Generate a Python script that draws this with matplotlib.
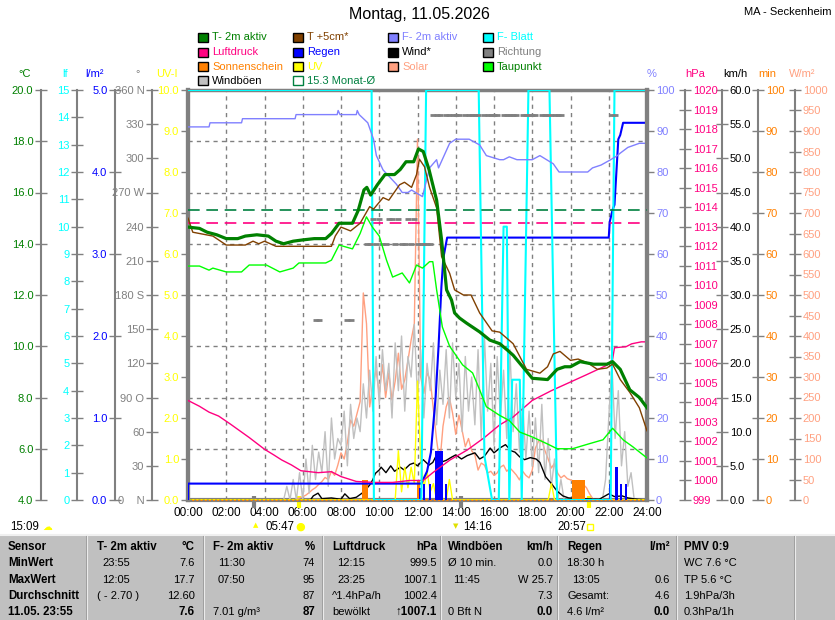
import numpy as np
import matplotlib
matplotlib.use("Agg")
import matplotlib.pyplot as plt
from matplotlib.patches import Rectangle

plt.rcParams['font.family'] = ['Liberation Sans', 'DejaVu Sans']

nan = np.nan

# ---------------- data (hour, value) ----------------
temp_2m = [(0.0, 14.65), (0.6, 14.6), (1.0, 14.45), (1.5, 14.35), (2.0, 14.2), (2.6, 14.2),
           (3.0, 14.3), (3.6, 14.35), (4.2, 14.3), (4.6, 14.1), (5.0, 14.0), (5.5, 14.1),
           (6.0, 14.15), (6.6, 14.2), (7.2, 14.2), (7.5, 14.4), (7.9, 14.8), (8.6, 14.8),
           (8.9, 15.3), (9.2, 16.1), (9.35, 16.2), (9.55, 15.9), (9.9, 16.3), (10.3, 16.7),
           (10.8, 16.7), (11.1, 16.9), (11.4, 17.2), (11.8, 17.2), (12.05, 17.7), (12.3, 17.6),
           (12.6, 16.9), (12.8, 16.3), (13.0, 15.7), (13.26, 14.15), (13.52, 12.2), (13.78, 11.8),
           (13.94, 11.3), (14.2, 11.1), (14.57, 10.9), (15.25, 10.56), (15.78, 10.24), (16.3, 10.1),
           (16.7, 9.85), (17.0, 9.65), (17.5, 9.2), (18.0, 8.75), (18.8, 8.7), (19.3, 9.1),
           (19.7, 9.2), (20.0, 9.2), (20.5, 9.4), (21.2, 9.3), (21.9, 9.3), (22.2, 9.4),
           (22.6, 9.1), (23.1, 8.3), (23.6, 8.0), (24.0, 7.6)]

temp_5cm = [(0.0, 15.0), (0.25, 14.45), (0.6, 14.4), (1.3, 14.3), (2.0, 13.95), (3.0, 13.95),
            (3.4, 14.1), (3.7, 14.0), (4.0, 14.1), (4.6, 13.9), (5.7, 13.9), (7.5, 13.9),
            (7.7, 14.3), (8.0, 14.65), (8.5, 14.5), (9.0, 14.8), (9.5, 15.45), (9.7, 15.35),
            (10.2, 15.8), (10.5, 15.7), (11.06, 16.3), (11.32, 16.4), (11.69, 16.2), (11.95, 16.7),
            (12.1, 17.3), (12.37, 17.0), (12.63, 16.2), (13.0, 15.4), (13.26, 13.5), (13.68, 12.85),
            (13.94, 12.2), (14.4, 12.0), (14.8, 12.0), (15.25, 11.3), (15.9, 10.6), (16.3, 10.55),
            (17.0, 10.1), (17.7, 9.1), (18.4, 8.95), (18.8, 9.2), (19.1, 9.7), (19.45, 9.8),
            (20.0, 9.45), (20.4, 9.5), (20.9, 9.35), (21.4, 9.1), (21.9, 9.15), (22.2, 9.3),
            (22.6, 8.7), (23.1, 8.2), (23.6, 7.6), (24.0, 6.7)]

dewpoint = [(0.0, 13.13), (0.6, 13.13), (1.1, 12.97), (1.3, 13.05), (2.0, 12.9), (2.8, 12.9),
            (3.2, 13.17), (4.1, 13.17), (4.8, 12.9), (5.5, 13.05), (5.8, 13.25), (7.2, 13.25),
            (7.5, 13.36), (7.9, 13.95), (8.6, 13.8), (9.0, 14.4), (9.33, 15.05), (9.64, 14.65),
            (10.0, 14.3), (10.38, 13.36), (10.7, 12.7), (11.2, 12.86), (11.58, 12.47), (11.95, 13.17),
            (12.26, 13.05), (12.63, 13.3), (12.8, 13.3), (13.0, 12.2), (13.3, 10.75), (13.68, 10.0),
            (14.36, 9.27), (14.88, 8.96), (15.25, 8.3), (15.6, 7.64), (16.3, 7.3), (16.8, 7.1),
            (17.35, 6.65), (18.0, 6.46), (18.76, 6.2), (19.3, 6.0), (20.1, 6.0), (21.0, 6.2),
            (21.7, 6.35), (22.2, 6.8), (22.75, 6.35), (23.27, 6.07), (24.0, 5.64)]

humidity = [(0.0, 91), (1.1, 91), (1.15, 92), (2.8, 92), (2.85, 93), (5.6, 93), (5.65, 94),
            (7.8, 94), (7.85, 95), (7.95, 94), (8.8, 94), (8.85, 95), (8.95, 94), (9.4, 92),
            (9.7, 88), (9.85, 84), (10.2, 80.5), (10.9, 77), (11.2, 75), (11.5, 75), (11.69, 75.6),
            (11.9, 75), (12.26, 74), (12.63, 81), (13.0, 83), (13.1, 81), (13.68, 87), (14.0, 88),
            (14.7, 88), (15.25, 86.6), (15.6, 84), (16.3, 83), (16.5, 83), (16.8, 83.7), (17.2, 83),
            (18.0, 83), (18.4, 84), (18.75, 83), (19.1, 82), (19.4, 80), (20.9, 80), (21.15, 81),
            (21.6, 81.7), (22.1, 83), (22.45, 84), (22.6, 84.6), (23.0, 86), (23.6, 87), (24.0, 87)]

leaf_wet = [(0.0, 15), (9.6, 15), (9.72, 0), (12.2, 0), (12.45, 15), (15.2, 15), (15.5, 1.6),
            (15.9, 0), (16.25, 0), (16.5, 10), (16.67, 10), (16.8, 0), (16.95, 4.4), (17.35, 4.4),
            (17.45, 0), (17.8, 15), (18.9, 15), (19.3, 0), (22.1, 0), (22.3, 15), (24.0, 15)]

pressure = [(0.0, 1004.1), (0.6, 1003.8), (1.1, 1003.5), (1.6, 1003.3), (2.2, 1002.9), (3.2, 1002.2),
            (4.0, 1001.6), (4.5, 1001.3), (4.9, 1001.05), (5.4, 1000.8), (5.9, 1000.5), (6.8, 1000.4),
            (7.5, 1000.45), (8.0, 1000.2), (8.8, 999.95), (9.7, 999.9), (10.7, 999.9), (11.6, 1000.0),
            (12.3, 1000.0), (12.8, 1000.4), (13.7, 1001.05), (14.6, 1001.56), (15.5, 1002.2),
            (16.3, 1002.85), (17.0, 1003.25), (18.0, 1004.1), (19.0, 1004.6), (19.9, 1005.0),
            (20.8, 1005.4), (21.9, 1005.9), (22.2, 1006.2), (22.3, 1006.8), (22.9, 1006.85),
            (23.2, 1007.0), (23.7, 1007.1), (24.0, 1007.1)]

wind = [(0.0, 0), (6.4, 0), (6.55, 0.6), (6.8, 1.0), (7.0, 0.2), (7.5, 0.3), (8.0, 0.1), (8.2, 0.9),
        (8.45, 0.2), (8.8, 0.4), (9.2, 1.2), (9.5, 2.2), (9.65, 2.9), (9.8, 3.9), (10.0, 4.4),
        (10.1, 4.8), (10.35, 4.0), (10.6, 5.0), (10.8, 4.2), (11.1, 4.8), (11.3, 4.4), (11.6, 5.2),
        (11.8, 5.4), (12.0, 5.0), (12.3, 5.9), (12.6, 5.1), (12.8, 5.5), (13.0, 6.6), (13.3, 5.6),
        (13.5, 5.8), (13.8, 6.3), (14.0, 6.6), (14.3, 6.0), (14.6, 6.5), (15.0, 6.9), (15.25, 6.0),
        (15.5, 6.4), (15.8, 7.6), (16.0, 6.9), (16.3, 7.6), (16.6, 8.1), (16.9, 7.2), (17.1, 7.0),
        (17.35, 6.3), (17.6, 5.9), (17.9, 6.2), (18.2, 6.0), (18.4, 5.5), (18.7, 3.4), (19.0, 2.4),
        (19.3, 1.3), (19.6, 0.6), (19.9, 0.3), (20.5, 0.2), (21.5, 0.1), (22.0, 0.9), (22.3, 0.5),
        (22.7, 0.6), (23.0, 0.3), (23.5, 0.1), (24.0, 0.0)]

rain_total = [(0.0, 0.0), (0.0, 0.2), (12.2, 0.2), (12.5, 0.35), (12.7, 0.58), (12.95, 1.26),
              (13.1, 1.87), (13.25, 2.6), (13.35, 2.95), (13.55, 3.2), (22.0, 3.2), (22.05, 3.39),
              (22.2, 3.54), (22.3, 3.6), (22.4, 4.0), (22.5, 4.4), (22.6, 4.45), (22.75, 4.6),
              (24.0, 4.6)]

rain_bar_t = [12.15, 12.35, 12.65, 12.95, 13.1, 13.25, 13.5, 22.05, 22.4, 22.65, 22.9]
rain_bar_mm = [0.15, 0.2, 0.2, 0.6, 0.6, 0.6, 0.2, 0.2, 0.4, 0.2, 0.2]

sun_t = [9.1, 9.25, 11.95, 20.1, 20.27, 20.43, 20.6]
sun_min = [5, 5, 5, 5, 5, 5, 5]

# 10-minute samples, one row per hour, plus the 24:00 value
gust = [0, 0, 0, 0, 0, 0,  0, 0, 0, 0, 0, 0,  0, 0, 0, 0, 0, 0,  0, 0, 0, 0, 0, 0,
        0, 0, 0, 0, 0, 0,
        0, 2, 0, 3, 0, 4,
        0, 6, 1, 8, 3, 7,
        4, 10, 2, 12, 6, 9,
        8, 13, 5, 14, 9, 12,
        10, 17, 12, 19, 13, 21,
        14, 22, 16, 20, 12, 23,
        16, 24, 13, 21, 18, 25.7,
        15, 22, 12, 20, 16, 23,
        11, 19, 14, 22, 12, 23,
        15, 20, 10, 21, 13, 18,
        11, 22, 9, 24, 13, 20,
        8, 21, 12, 19, 9, 22,
        10, 17, 7, 14, 6, 13,
        5, 12, 4, 14, 3, 9,
        2, 6, 0, 3, 0, 0,
        0, 0, 0, 0, 0, 0,
        0, 0, 0, 0, 0, 3,
        12, 20, 9, 16, 5, 10,
        2, 4, 0, 0, 0, 0,
        0]

solar = [0, 0, 0, 0, 0, 0,  0, 0, 0, 0, 0, 0,  0, 0, 0, 0, 0, 0,  0, 0, 0, 0, 0, 0,
         0, 0, 0, 0, 0, 0,
         0, 0, 0, 0, 2, 5,
         8, 12, 18, 25, 30, 38,
         45, 55, 50, 70, 60, 85,
         115, 100, 140, 195, 180, 210,
         240, 505, 430, 227, 280, 317,
         260, 330, 250, 310, 244, 290,
         358, 270, 293, 340, 390, 430,
         880, 300, 260, 310, 293, 220,
         146, 90, 180, 227, 250, 212,
         160, 207, 170, 130, 150, 120,
         110, 73, 90, 85, 66, 70,
         60, 66, 80, 85, 70, 78,
         70, 61, 49, 70, 60, 54,
         73, 127, 144, 146, 120, 100,
         78, 90, 65, 54, 60, 52,
         49, 45, 43, 41, 38, 30,
         15, 3, 0, 0, 0, 0,
         0, 0, 0, 0, 0, 0,
         0, 0, 0, 0, 0, 0,
         0]

uv = [0] * 66 + [1.2, 0.2, 0.8, 0.3, 0.8, 0.4,
                 2.9, 1.0, 0.3, 0.7, 0.2, 0.4,
                 0, 0.3, 0, 0, 0.5, 0] + [0] * 30 + [0.4] + [0] * 36

direction = [nan] * 40 + [158, 158] + [nan] * 8 + [158, 158] + [nan] * 4 + \
    [225, 225, 247, 225,
     247, 225, 225, 247, 247, 225,
     247, 225, 225, 247, 225, 247,
     225, 225, 225, 225, 225, 338] + \
    [338, 338, nan, 338, 338, 338] * 6 + [338, 338, 338, 338, nan, nan] + \
    [nan] * 12 + [nan, 338, 338, nan, nan, nan] + [nan] * 7

T_MONTH = 15.3
P_MONTH = 1013.2
sunrise_set = [5.78, 20.95]
moon_marks = [3.47, 14.27]

hour_ticks = list(range(0, 25, 2))

# ---------------- figure ----------------
W, H = 835, 620
PL, PR, PT, PB = 188, 647, 90, 500
GRAY = '#808080'

fig = plt.figure(figsize=(W / 100, H / 100), dpi=100)

page = fig.add_axes([0, 0, 1, 1])
page.set_xlim(0, W)
page.set_ylim(H, 0)
page.axis('off')

plot_rect = [PL / W, 1 - PB / H, (PR - PL) / W, (PB - PT) / H]

base = fig.add_axes(plot_rect)
base.set_xlim(0, 24)
base.set_ylim(0, 8)
base.set_xticks(hour_ticks)
base.set_xticklabels([f'{h:02d}:00' for h in hour_ticks])
base.set_yticks(range(9))
base.set_yticklabels([])
base.tick_params(axis='both', length=0, labelsize=8.5)
base.tick_params(axis='x', pad=5)
base.grid(True, color=GRAY, ls=(0, (3, 3)), lw=1)
for s in ['left', 'right', 'bottom']:
    base.spines[s].set_color(GRAY)
    base.spines[s].set_linewidth(3)
base.spines['top'].set_color(GRAY)
base.spines['top'].set_linewidth(2.5)

# markers below the time axis
base.vlines(moon_marks, -0.02, 0.01, transform=base.get_xaxis_transform(),
            color=GRAY, lw=3, clip_on=False)
base.vlines(sunrise_set, -0.02, 0.01, transform=base.get_xaxis_transform(),
            color='#FFFF00', lw=3, clip_on=False)


def scale_axis(lo, hi, ticks, labels, color, px, side, direction='inout', length=8, lw=1.5):
    a = fig.add_axes(plot_rect)
    a.patch.set_visible(False)
    a.set_xlim(0, 24)
    a.set_xticks([])
    a.set_ylim(lo, hi)
    for s in a.spines.values():
        s.set_visible(False)
    sp = a.spines[side]
    sp.set_visible(True)
    sp.set_position(('axes', (px - PL) / (PR - PL)))
    sp.set_color(GRAY)
    sp.set_linewidth(lw)
    a.yaxis.set_ticks_position(side)
    a.set_yticks(ticks)
    a.set_yticklabels(labels)
    a.tick_params(axis='y', color=GRAY, direction=direction, length=length, width=1,
                  labelsize=8, pad=1.5)
    a.tick_params(axis='y', labelcolor=color)
    return a


ax_solar = scale_axis(0, 1000, range(0, 1001, 50), [str(v) for v in range(0, 1001, 50)],
                      '#FFA080', 795, 'right')
ax_wind = scale_axis(0, 60, np.arange(0, 61, 5), [f'{v:.1f}' for v in range(0, 61, 5)],
                     'black', 722, 'right')
ax_sun = scale_axis(0, 100, range(0, 101, 10), [str(v) for v in range(0, 101, 10)],
                    '#FF8000', 758, 'right')
ax_uv = scale_axis(0, 10, range(0, 11), [f'{v:.1f}' for v in range(0, 11)],
                   '#FFFF00', PL, 'left', direction='out', length=5, lw=3)
ax_rain = scale_axis(0, 5, range(0, 6), [f'{v:.1f}' for v in range(0, 6)],
                     '#0000FF', 115, 'left')
ax_pres = scale_axis(999, 1020, range(999, 1021), [str(v) for v in range(999, 1021)],
                     '#FF0080', 685, 'right')
ax_leaf = scale_axis(0, 15, range(0, 16), [str(v) for v in range(0, 16)],
                     '#00FFFF', 77, 'left')
ax_dir = scale_axis(0, 360, range(0, 361, 30),
                    ['0    N', '30', '60', '90 O', '120', '150', '180 S', '210', '240',
                     '270 W', '300', '330', '360 N'],
                    GRAY, 152, 'left')
ax_hum = scale_axis(0, 100, range(0, 101, 10), [str(v) for v in range(0, 101, 10)],
                    '#8080FF', PR, 'right', direction='out', length=5, lw=3)
ax_temp = scale_axis(4, 20, range(4, 21, 2), [f'{v:.1f}' for v in range(4, 21, 2)],
                     '#008000', 41, 'left')

t10 = np.arange(len(solar)) / 6.0

ax_solar.plot(t10, solar, color='#FFA080', lw=1)
ax_wind.plot(np.arange(len(gust)) / 6.0, gust, color='#C0C0C0', lw=1, zorder=1)
ax_wind.plot(*zip(*wind), color='black', lw=1, zorder=3)
ax_sun.bar(sun_t, sun_min, width=1 / 6, align='edge', color='#FF8000')
ax_sun.axhline(0, color='#FF8000', lw=1.5, ls=(0, (1, 1)), clip_on=False)
ax_uv.plot(np.arange(len(uv)) / 6.0, uv, color='#FFFF00', lw=1)
ax_rain.bar(rain_bar_t, rain_bar_mm, width=0.12, color='#0000FF')
ax_dir.plot(np.arange(len(direction)) / 6.0, direction, ls='none', marker='_',
            ms=4, mew=2, color=GRAY)
ax_pres.plot(*zip(*pressure), color='#FF0080', lw=1)
ax_pres.axhline(P_MONTH, color='#FF0080', lw=1.2, ls=(0, (7, 4)))
ax_leaf.plot(*zip(*leaf_wet), color='#00FFFF', lw=1.5)
ax_rain.plot(*zip(*rain_total), color='#0000FF', lw=1.5)
ax_hum.plot(*zip(*humidity), color='#8080FF', lw=1)
ax_temp.axhline(T_MONTH, color='#008040', lw=1.2, ls=(0, (7, 4)))
ax_temp.plot(*zip(*dewpoint), color='#00FF00', lw=1)
ax_temp.plot(*zip(*temp_5cm), color='#804000', lw=1)
ax_temp.plot(*zip(*temp_2m), color='#008000', lw=2.3)

# ---------------- header texts ----------------
page.text(419, 15, 'Montag, 11.05.2026', ha='center', va='center', fontsize=11.5)
page.text(832, 12, 'MA - Seckenheim', ha='right', va='center', fontsize=8)

unit_labels = ['°C', 'lf', 'l/m²', '°', 'UV-I', '%', 'hPa', 'km/h', 'min', 'W/m²']
unit_colors = ['#008000', '#00FFFF', '#0000FF', GRAY, '#FFFF00',
               '#8080FF', '#FF0080', 'black', '#FF8000', '#FFA080']
unit_x = [25, 65, 95, 138, 167, 652, 695, 735, 767, 802]
for lab, col, x in zip(unit_labels, unit_colors, unit_x):
    page.text(x, 74, lab, ha='center', va='center', fontsize=8, color=col)

legend_labels = ['T- 2m aktiv', 'T +5cm*', 'F- 2m aktiv', 'F- Blatt',
                 'Luftdruck', 'Regen', 'Wind*', 'Richtung',
                 'Sonnenschein', 'UV', 'Solar', 'Taupunkt',
                 'Windböen', f'{T_MONTH:.1f} Monat-Ø']
legend_swatch = ['#008000', '#804000', '#8080FF', '#00FFFF',
                 '#FF0080', '#0000FF', 'black', GRAY,
                 '#FF8000', '#FFFF00', '#FFA080', '#00FF00',
                 '#C0C0C0', 'none']
legend_text = ['#008000', '#804000', '#8080FF', '#00FFFF',
               '#FF0080', '#0000FF', 'black', GRAY,
               '#FF8000', '#FFFF00', '#FFA080', '#008000',
               'black', '#008040']
leg_x = [198, 293, 388, 483]
leg_y = [33, 47.5, 62, 76]
for i, (lab, sw, tc) in enumerate(zip(legend_labels, legend_swatch, legend_text)):
    x, y = leg_x[i % 4], leg_y[i // 4]
    if sw == 'none':
        page.add_patch(Rectangle((x, y), 10, 9, facecolor='none', edgecolor='#008040', lw=1))
    else:
        page.add_patch(Rectangle((x, y), 10, 9, facecolor=sw, edgecolor='black', lw=1))
    page.text(x + 14, y + 4.5, lab, va='center', fontsize=8, color=tc)

# ---------------- sun / moon line ----------------
SUN_Y = 527
page.text(10, SUN_Y, '15:09', va='center', fontsize=8.3)
page.text(47, SUN_Y, '☁', va='center', ha='center', fontsize=7, color='#FFFF00',
          family='DejaVu Sans')
page.text(256, SUN_Y - 2, '▲', va='center', ha='center', fontsize=5, color='#FFFF00',
          family='DejaVu Sans')
page.text(266, SUN_Y, '05:47', va='center', fontsize=8.3)
page.text(300, SUN_Y, '●', va='center', ha='center', fontsize=8, color='#FFFF00',
          family='DejaVu Sans')
page.text(456, SUN_Y - 1, '▼', va='center', ha='center', fontsize=5, color='#E0E000',
          family='DejaVu Sans')
page.text(463, SUN_Y, '14:16', va='center', fontsize=8.3)
page.text(557, SUN_Y, '20:57', va='center', fontsize=8.3)
page.add_patch(Rectangle((587, SUN_Y - 3), 6, 6, facecolor='none', edgecolor='#FFFF00', lw=1))

# ---------------- summary table ----------------
tbl_sep = [87, 204, 323, 441, 558, 677, 795]
tbl_left = [8, 97, 213, 332, 448, 567, 684]
tbl_right = [None, 195, 315, 437, 553, 670, None]
tbl_rows_y = [547, 563, 580, 596, 612]

tbl_header = ['Sensor', 'T- 2m aktiv', 'F- 2m aktiv', 'Luftdruck', 'Windböen', 'Regen', 'PMV 0:9']
tbl_unit = ['', '°C', '%', 'hPa', 'km/h', 'l/m²', '']
tbl_label = [['MinWert', 'MaxWert', 'Durchschnitt', '11.05. 23:55'],
             ['23:55', '12:05', '( - 2.70 )', ''],
             ['11:30', '07:50', '', '7.01 g/m³'],
             ['12:15', '23:25', '^1.4hPa/h', 'bewölkt'],
             ['Ø 10 min.', '11:45', '', '0 Bft N'],
             ['18:30 h', '13:05', 'Gesamt:', '4.6 l/m²'],
             ['WC 7.6 °C', 'TP 5.6 °C', '1.9hPa/3h', '0.3hPa/1h']]
tbl_value = [None,
             ['7.6', '17.7', '12.60', '7.6'],
             ['74', '95', '87', '87'],
             ['999.5', '1007.1', '1002.4', '↑1007.1'],
             ['0.0', 'W 25.7', '7.3', '0.0'],
             ['', '0.6', '4.6', '0.0'],
             None]

page.add_patch(Rectangle((0, 534), W, H - 534, facecolor='#C0C0C0', edgecolor='none'))
page.plot([0, W], [534.5, 534.5], color='#F0F0F0', lw=1.5)
for x in tbl_sep:
    page.plot([x, x], [536, H], color='#F0F0F0', lw=1.5)
    page.plot([x - 1.5, x - 1.5], [536, H], color='#A0A0A0', lw=0.8)

for c in range(len(tbl_header)):
    page.text(tbl_left[c], tbl_rows_y[0], tbl_header[c], va='center', fontsize=8.3,
              fontweight='bold')
    if tbl_unit[c]:
        page.text(tbl_right[c], tbl_rows_y[0], tbl_unit[c], va='center', ha='right',
                  fontsize=8.3, fontweight='bold')
    for r, lab in enumerate(tbl_label[c]):
        y = tbl_rows_y[r + 1]
        if c == 0:
            page.text(tbl_left[c], y, lab, va='center', fontsize=8.3, fontweight='bold')
            continue
        indent = 5 if (len(lab) == 5 and lab[2] == ':') else 0
        page.text(tbl_left[c] + indent, y, lab, va='center', fontsize=8)
        if tbl_value[c] is not None:
            page.text(tbl_right[c], y, tbl_value[c][r], va='center', ha='right',
                      fontsize=8.3 if r == 3 else 8,
                      fontweight='bold' if r == 3 else 'normal')

fig.savefig('out.png', dpi=100)
